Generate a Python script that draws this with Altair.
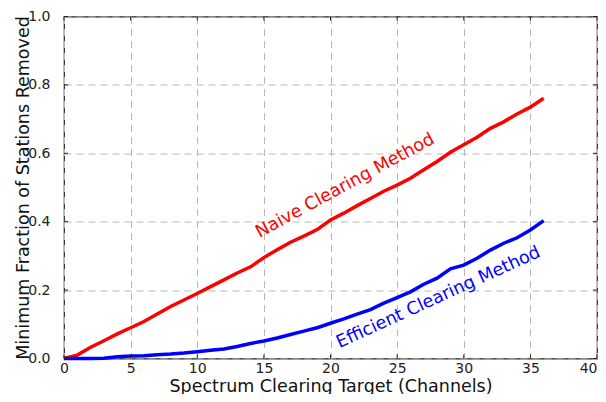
import altair as alt
import pandas as pd

channels = list(range(0, 37))
naive = [0.0, 0.01, 0.033, 0.052, 0.072, 0.09, 0.108, 0.13, 0.152, 0.171,
         0.19, 0.21, 0.23, 0.25, 0.268, 0.295, 0.318, 0.34, 0.358, 0.377,
         0.405, 0.425, 0.447, 0.468, 0.489, 0.507, 0.527, 0.552, 0.576, 0.603,
         0.625, 0.647, 0.673, 0.692, 0.715, 0.735, 0.761]
efficient = [0.0, 0.0, 0.0, 0.001, 0.005, 0.007, 0.008, 0.011, 0.013, 0.016,
             0.02, 0.024, 0.028, 0.035, 0.044, 0.051, 0.06, 0.07, 0.08, 0.09,
             0.103, 0.116, 0.13, 0.143, 0.162, 0.178, 0.195, 0.217, 0.235, 0.262,
             0.273, 0.293, 0.317, 0.337, 0.353, 0.376, 0.403]
series_names = ["Naive Clearing Method", "Efficient Clearing Method"]
series_colors = ["#ff0000", "#0000ff"]
label_x = [21.1, 28.1]
label_y = [0.505, 0.178]
label_angle = [331.5, 335.5]
x_ticks = [0, 5, 10, 15, 20, 25, 30, 35, 40]
y_ticks = [0.0, 0.2, 0.4, 0.6, 0.8, 1.0]

W, H = 533, 342
TICK = 4

rows = []
for name, vals in zip(series_names, [naive, efficient]):
    for c, v in zip(channels, vals):
        rows.append({"channels": c, "fraction": v, "series": name})
df = pd.DataFrame(rows)

labels_df = pd.DataFrame({"x": label_x, "y": label_y, "text": series_names,
                          "angle": label_angle})
xt_df = pd.DataFrame({"t": x_ticks})
yt_df = pd.DataFrame({"t": y_ticks})

FONT = "DejaVu Sans"

xscale = alt.Scale(domain=[0, 40], nice=False)
yscale = alt.Scale(domain=[0, 1.0], nice=False)
color_scale = alt.Scale(domain=series_names, range=series_colors)

lines = alt.Chart(df).mark_line(strokeWidth=3.5).encode(
    x=alt.X("channels:Q", scale=xscale,
            axis=alt.Axis(title="Spectrum Clearing Target (Channels)", values=x_ticks,
                          grid=True, gridDash=[7, 5], gridColor="#b8b8b8",
                          domain=False, ticks=False, labelPadding=3,
                          labelFontSize=14, titleFontSize=17.5, titleFontWeight="normal",
                          labelFont=FONT, titleFont=FONT, labelColor="#222",
                          titleColor="#111", titleY=32.5, titleBaseline="alphabetic",
                          labelFlush=False,
                          labelAlign=alt.ExprRef(expr="datum.value >= 40 ? 'right' : 'center'"))),
    y=alt.Y("fraction:Q", scale=yscale,
            axis=alt.Axis(title="Minimum Fraction of Stations Removed", values=y_ticks,
                          format=".1f", grid=True, gridDash=[7, 5], gridColor="#b8b8b8",
                          domain=False, ticks=False, labelPadding=14,
                          labelFontSize=14, titleFontSize=17.5, titleFontWeight="normal",
                          labelFont=FONT, titleFont=FONT, labelColor="#222",
                          titleColor="#111", titleX=-36, titleBaseline="alphabetic",
                          labelFlush=False)),
    color=alt.Color("series:N", scale=color_scale, legend=None),
)

tick_style = dict(color="#222", strokeWidth=1)
xt_bottom = alt.Chart(xt_df).mark_rule(**tick_style).encode(
    x=alt.X("t:Q", scale=xscale), y=alt.value(H), y2=alt.value(H - TICK))
xt_top = alt.Chart(xt_df).mark_rule(**tick_style).encode(
    x=alt.X("t:Q", scale=xscale), y=alt.value(0), y2=alt.value(TICK))
yt_left = alt.Chart(yt_df).mark_rule(**tick_style).encode(
    y=alt.Y("t:Q", scale=yscale), x=alt.value(0), x2=alt.value(TICK))
yt_right = alt.Chart(yt_df).mark_rule(**tick_style).encode(
    y=alt.Y("t:Q", scale=yscale), x=alt.value(W - TICK), x2=alt.value(W))

texts = alt.Chart(labels_df).mark_text(font=FONT, fontSize=17.6, baseline="middle",
                                       align="center").encode(
    x=alt.X("x:Q", scale=xscale),
    y=alt.Y("y:Q", scale=yscale),
    text="text:N",
    angle=alt.Angle("angle:Q", scale=None),
    color=alt.Color("text:N", scale=color_scale, legend=None),
)

chart = alt.layer(lines, xt_bottom, xt_top, yt_left, yt_right, texts).properties(
    width=W, height=H,
    autosize=alt.AutoSizeParams(type="none"),
    padding={"left": 56, "top": 8.5, "right": 1, "bottom": 35.5},
    background="white",
).configure_view(stroke="#222", strokeWidth=1.2)

chart.save("out.html", embed_options={"renderer": "svg", "actions": False})
